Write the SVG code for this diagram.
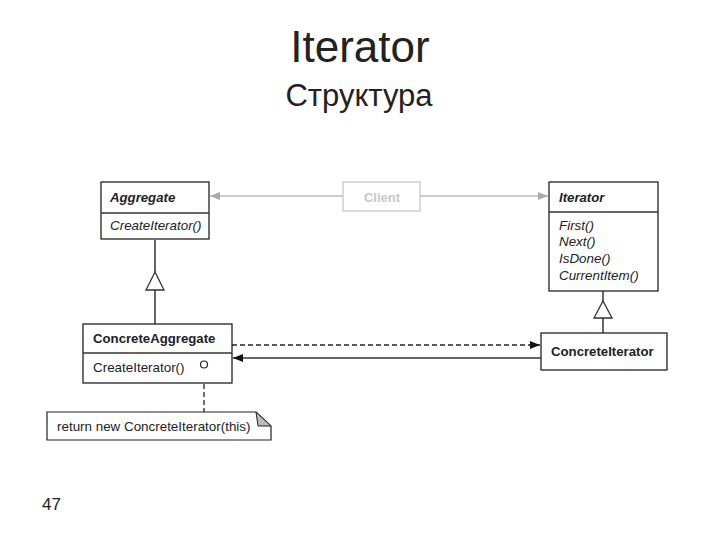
<svg xmlns="http://www.w3.org/2000/svg" width="720" height="540" viewBox="0 0 720 540">
<style>
.box{fill:#fff;stroke:#222;stroke-width:1.3}
.gbox{fill:#fff;stroke:#c8c8c8;stroke-width:1.3}
.ln{fill:none;stroke:#333;stroke-width:1.5}
.gl{fill:none;stroke:#bbb;stroke-width:1.3}
.dash{fill:none;stroke:#222;stroke-width:1.3;stroke-dasharray:5,3}
.t{font-family:"Liberation Sans",Arial,sans-serif;fill:#222}
.cls{font-size:13.2px;font-weight:bold}
.op{font-size:13.4px}
.it{font-style:italic}
</style>
<defs>
<marker id="fa" viewBox="0 0 10 8" refX="10" refY="4" markerWidth="10" markerHeight="8" markerUnits="userSpaceOnUse" orient="auto">
<path d="M0,0 L10,4 L0,8 Z" fill="#111"/>
</marker>
<marker id="ga" viewBox="0 0 10 8" refX="10" refY="4" markerWidth="10" markerHeight="8" markerUnits="userSpaceOnUse" orient="auto">
<path d="M0,0 L10,4 L0,8 Z" fill="#aaa"/>
</marker>
</defs>
<text class="t" x="360" y="62" text-anchor="middle" font-size="44">Iterator</text>
<text class="t" x="359" y="106" text-anchor="middle" font-size="31">Структура</text>
<text class="t" x="42" y="510" font-size="17">47</text>
<g id="connectors">
<line class="gl" x1="343" y1="196" x2="210" y2="196" marker-end="url(#ga)"/>
<line class="gl" x1="420" y1="196" x2="548" y2="196" marker-end="url(#ga)"/>
<line class="ln" x1="155" y1="240" x2="155" y2="272"/>
<path d="M155,272 L146,290 L164,290 Z" fill="#fff" stroke="#333" stroke-width="1.3"/>
<line class="ln" x1="155" y1="290" x2="155" y2="324"/>
<line class="ln" x1="603" y1="291" x2="603" y2="301"/>
<path d="M603,301 L594,318 L612,318 Z" fill="#fff" stroke="#333" stroke-width="1.3"/>
<line class="ln" x1="603" y1="318" x2="603" y2="333"/>
<line class="dash" x1="232" y1="345" x2="540" y2="345" marker-end="url(#fa)"/>
<line class="ln" x1="541" y1="358" x2="233" y2="358" marker-end="url(#fa)"/>
<line class="ln" x1="204" y1="368" x2="204" y2="373" style="stroke-width:1.2"/>
<line class="dash" x1="204" y1="376" x2="204" y2="412"/>
</g>
<g id="aggregate">
<rect class="box" x="101" y="182" width="108" height="57"/>
<line class="ln" x1="101" y1="213" x2="209" y2="213"/>
<text class="t cls it" x="110" y="202">Aggregate</text>
<text class="t op it" x="110" y="230">CreateIterator()</text>
</g>
<g id="client">
<rect class="gbox" x="343" y="182" width="77" height="29"/>
<text class="t" x="382" y="202" text-anchor="middle" font-size="13" font-weight="bold" style="fill:#c8c8c8">Client</text>
</g>
<g id="iterator">
<rect class="box" x="549" y="182" width="109" height="109"/>
<line class="ln" x1="549" y1="212" x2="658" y2="212"/>
<text class="t cls it" x="559" y="202">Iterator</text>
<text class="t op it" x="559" y="230">First()</text>
<text class="t op it" x="559" y="246">Next()</text>
<text class="t op it" x="559" y="263">IsDone()</text>
<text class="t op it" x="559" y="280">CurrentItem()</text>
</g>
<g id="concreteAggregate">
<rect class="box" x="83" y="324" width="149" height="59"/>
<line class="ln" x1="83" y1="353" x2="232" y2="353"/>
<text class="t cls" x="93" y="343">ConcreteAggregate</text>
<text class="t op" x="93" y="372">CreateIterator()</text>
<circle cx="204" cy="364.5" r="3.5" fill="#fff" stroke="#222" stroke-width="1.2"/>
</g>
<g id="concreteIterator">
<rect class="box" x="541" y="333" width="126" height="37"/>
<text class="t cls" x="551" y="356">ConcreteIterator</text>
</g>
<g id="note">
<path d="M47,412 L256,412 L271,426 L271,440 L47,440 Z" fill="#fff" stroke="#222" stroke-width="1.2"/>
<path d="M256,412 L271,426 L258,426 Z" fill="#bbb" stroke="#222" stroke-width="1"/>
<text class="t op" x="57" y="431">return new ConcreteIterator(this)</text>
</g>
</svg>
